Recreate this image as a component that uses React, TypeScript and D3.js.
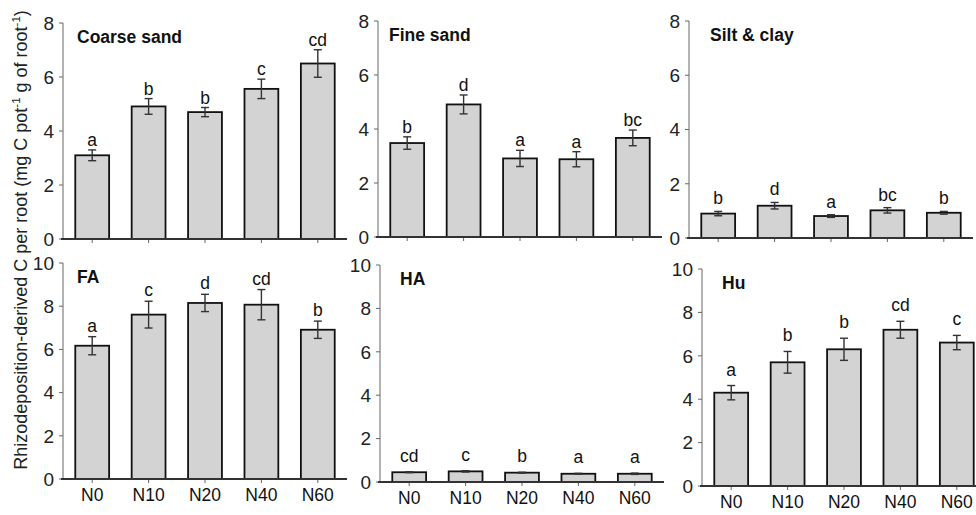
import React from "react";
import * as d3 from "d3";

const categories = ["N0", "N10", "N20", "N40", "N60"];

const coarseSand = [3.1, 4.91, 4.7, 5.56, 6.5];
const coarseSandErr = [0.2, 0.29, 0.17, 0.36, 0.51];
const coarseSandLetters = ["a", "b", "b", "c", "cd"];

const fineSand = [3.48, 4.91, 2.91, 2.88, 3.67];
const fineSandErr = [0.23, 0.35, 0.3, 0.28, 0.29];
const fineSandLetters = ["b", "d", "a", "a", "bc"];

const siltClay = [0.9, 1.19, 0.81, 1.02, 0.93];
const siltClayErr = [0.08, 0.12, 0.05, 0.1, 0.05];
const siltClayLetters = ["b", "d", "a", "bc", "b"];

const fa = [6.17, 7.61, 8.15, 8.07, 6.91];
const faErr = [0.42, 0.62, 0.4, 0.7, 0.4];
const faLetters = ["a", "c", "d", "cd", "b"];

const ha = [0.45, 0.49, 0.43, 0.38, 0.38];
const haErr = [0.02, 0.03, 0.02, 0.02, 0.03];
const haLetters = ["cd", "c", "b", "a", "a"];

const hu = [4.3, 5.7, 6.3, 7.2, 6.61];
const huErr = [0.33, 0.5, 0.51, 0.39, 0.33];
const huLetters = ["a", "b", "b", "cd", "c"];

const topTicks = [0, 2, 4, 6, 8];
const bottomTicks = [0, 2, 4, 6, 8, 10];

const panelTitles = ["Coarse sand", "Fine sand", "Silt & clay", "FA", "HA", "Hu"];

const FONT = "'Liberation Sans', Arial, Helvetica, sans-serif";

interface PanelProps {
  title: string;
  values: number[];
  errs: number[];
  letters: string[];
  ticks: number[];
  axisX: number;
  yTop: number;
  yZero: number;
  titleDx: number;
  labelGap: number;
  showX: boolean;
}

function Panel(p: PanelProps) {
  const yMax = p.ticks[p.ticks.length - 1];
  const y = d3.scaleLinear().domain([0, yMax]).range([p.yZero, p.yTop]);
  const x = d3
    .scaleBand()
    .domain(categories)
    .range([p.axisX + 1, p.axisX + 283])
    .paddingInner(0.4)
    .paddingOuter(0.2);
  const bw = x.bandwidth();
  return (
    <g>
      <line x1={p.axisX} x2={p.axisX} y1={p.yTop} y2={p.yZero} stroke="#666" strokeWidth={1} />
      {p.ticks.map((t) => (
        <g key={t}>
          <line x1={p.axisX - 4} x2={p.axisX} y1={y(t)} y2={y(t)} stroke="#666" strokeWidth={1} />
          <text
            x={p.axisX - 9}
            y={y(t)}
            dy="0.36em"
            textAnchor="end"
            fontSize={19}
            fontFamily={FONT}
            fill="#222"
          >
            {t}
          </text>
        </g>
      ))}
      {categories.map((c, i) => {
        const x0 = x(c) as number;
        const cx = x0 + bw / 2;
        const top = y(p.values[i] + p.errs[i]);
        const bot = y(p.values[i] - p.errs[i]);
        return (
          <g key={c}>
            <rect
              x={x0}
              y={y(p.values[i])}
              width={bw}
              height={p.yZero - y(p.values[i])}
              fill="#d3d3d3"
              stroke="#111"
              strokeWidth={1.8}
            />
            <line x1={cx} x2={cx} y1={top} y2={bot} stroke="#333" strokeWidth={1.4} />
            <line x1={cx - 4} x2={cx + 4} y1={top} y2={top} stroke="#333" strokeWidth={1.4} />
            <line x1={cx - 4} x2={cx + 4} y1={bot} y2={bot} stroke="#333" strokeWidth={1.4} />
            <text
              x={cx}
              y={top - p.labelGap}
              textAnchor="middle"
              fontSize={17.5}
              fontFamily={FONT}
              fill="#111"
            >
              {p.letters[i]}
            </text>
            <line x1={cx} x2={cx} y1={p.yZero} y2={p.yZero + 4} stroke="#666" strokeWidth={1} />
            {p.showX && (
              <text
                x={cx}
                y={p.yZero + 22}
                textAnchor="middle"
                fontSize={17.5}
                fontFamily={FONT}
                fill="#111"
              >
                {c}
              </text>
            )}
          </g>
        );
      })}
      <line x1={p.axisX - 2} x2={p.axisX + 284} y1={p.yZero} y2={p.yZero} stroke="#333" strokeWidth={1.8} />
      <text
        x={p.axisX + p.titleDx}
        y={p.yTop + 20}
        fontSize={17.5}
        fontWeight="bold"
        fontFamily={FONT}
        fill="#111"
      >
        {p.title}
      </text>
    </g>
  );
}

export default function App() {
  const W = 976;
  const H = 515;
  return (
    <svg
      width={W}
      height={H}
      style={{ position: "absolute", left: 0, top: 0, background: "#fff" }}
    >
      <rect width={W} height={H} fill="#fff" />
      <Panel title={panelTitles[0]} values={coarseSand} errs={coarseSandErr} letters={coarseSandLetters}
        ticks={topTicks} axisX={63} yTop={23} yZero={239} titleDx={14} labelGap={4} showX={false} />
      <Panel title={panelTitles[1]} values={fineSand} errs={fineSandErr} letters={fineSandLetters}
        ticks={topTicks} axisX={378} yTop={21} yZero={237} titleDx={11} labelGap={4} showX={false} />
      <Panel title={panelTitles[2]} values={siltClay} errs={siltClayErr} letters={siltClayLetters}
        ticks={topTicks} axisX={689} yTop={21} yZero={238} titleDx={21} labelGap={7} showX={false} />
      <Panel title={panelTitles[3]} values={fa} errs={faErr} letters={faLetters}
        ticks={bottomTicks} axisX={63} yTop={263} yZero={479} titleDx={14} labelGap={5} showX={true} />
      <Panel title={panelTitles[4]} values={ha} errs={haErr} letters={haLetters}
        ticks={bottomTicks} axisX={380} yTop={265} yZero={482} titleDx={20} labelGap={10} showX={true} />
      <Panel title={panelTitles[5]} values={hu} errs={huErr} letters={huLetters}
        ticks={bottomTicks} axisX={702} yTop={269} yZero={486} titleDx={20} labelGap={10} showX={true} />
      <text
        transform="translate(27,240) rotate(-90)"
        textAnchor="middle"
        fontSize={18}
        fontFamily={FONT}
        fill="#222"
      >
        Rhizodeposition-derived C per root (mg C pot
        <tspan fontSize={11.5} dy={-7}>-1</tspan>
        <tspan dy={7}> g of root</tspan>
        <tspan fontSize={11.5} dy={-7}>-1</tspan>
        <tspan dy={7}>)</tspan>
      </text>
    </svg>
  );
}
